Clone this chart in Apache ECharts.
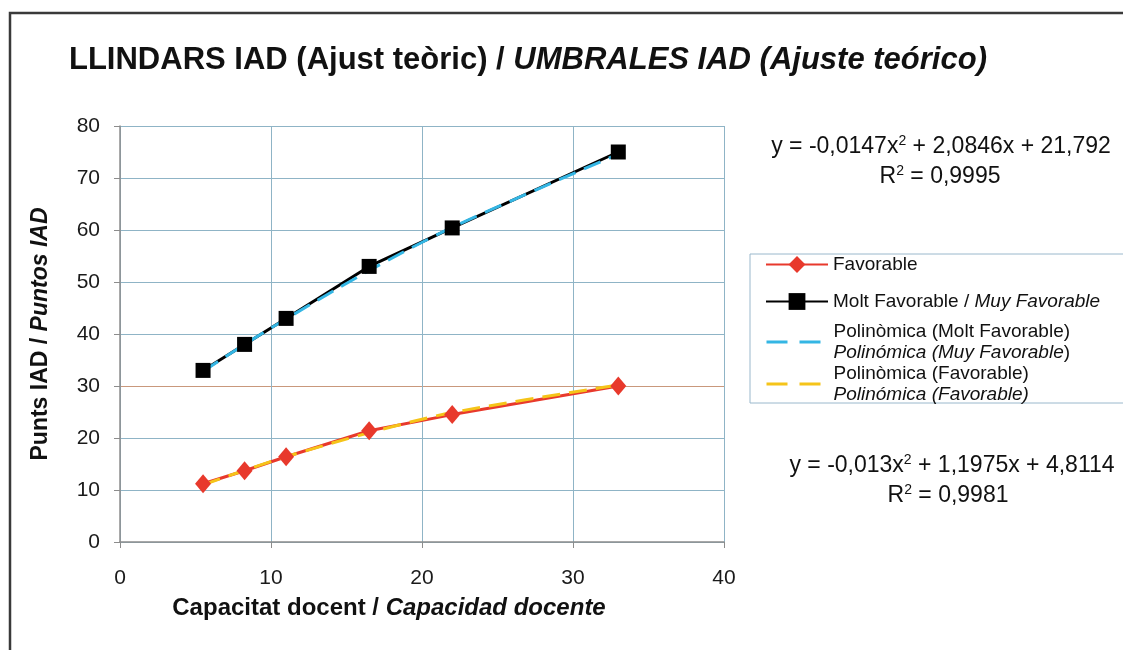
<!DOCTYPE html>
<html>
<head>
<meta charset="utf-8">
<script src="https://cdn.jsdelivr.net/npm/echarts@6/dist/echarts.min.js"></script>
<style>
  html, body { margin: 0; padding: 0; background: #fff; }
  #chart { width: 1123px; height: 650px; }
</style>
</head>
<body>
<div id="chart"></div>
<script>
// dades
var capacitat = [5.5, 8.25, 11, 16.5, 22, 33];
var favorable = [11.2, 13.7, 16.4, 21.4, 24.5, 30];
var moltFavorable = [33, 38, 43, 53, 60.4, 75];
// línies de tendència (llegides del gràfic)
var tendMolt = [32.8, 38.0, 42.9, 52.2, 60.5, 74.6];
var tendFav = [11.0, 13.8, 16.4, 21.0, 24.9, 30.2];
var xTicks = [0, 10, 20, 30, 40];
var yTicks = [0, 10, 20, 30, 40, 50, 60, 70, 80];

function parells(xs, ys) {
  return xs.map(function (x, i) { return [x, ys[i]]; });
}

var font = '"Liberation Sans", Arial, Helvetica, sans-serif';
var blau = '#8fb4c6';
var gris = '#8c8c8c';

var nomsSeries = ['Favorable', 'Molt Favorable / Muy Favorable',
                  'Polinòmica (Molt Favorable)', 'Polinòmica (Favorable)'];

var richLlegenda = {
  u: { fontFamily: font, fontSize: 19, color: '#111', lineHeight: 21 },
  ui: { fontFamily: font, fontSize: 19, fontStyle: 'italic', color: '#111', lineHeight: 21 }
};

function llegenda(nom, top, extra) {
  var l = {
    orient: 'vertical',
    left: 765, top: top,
    padding: 0,
    itemWidth: 62, itemHeight: 21,
    data: [Object.assign({ name: nom }, extra || {})],
    formatter: function (name) {
      if (name === 'Favorable') return '{u|Favorable}';
      if (name === 'Molt Favorable / Muy Favorable') return '{u|Molt Favorable / }{ui|Muy Favorable}';
      if (name === 'Polinòmica (Molt Favorable)')
        return '{u|Polinòmica (Molt Favorable)}\n{ui|Polinómica (Muy Favorable}{u|)}';
      return '{u|Polinòmica (Favorable)}\n{ui|Polinómica (Favorable)}';
    },
    textStyle: { lineHeight: 21, rich: richLlegenda }
  };
  return l;
}

function equacio(x, y, parts) {
  return {
    type: 'text', silent: true,
    x: x, y: y,
    style: {
      text: parts,
      align: 'center', verticalAlign: 'middle',
      rich: {
        t: { fontFamily: font, fontSize: 23, fill: '#111' },
        s: { fontFamily: font, fontSize: 14, fill: '#111', verticalAlign: 'top', padding: [0, 0, 12, 0] }
      }
    }
  };
}

var chart = echarts.init(document.getElementById('chart'));

chart.setOption({
  backgroundColor: '#fff',
  animation: false,
  textStyle: { fontFamily: font, color: '#1a1a1a' },
  title: {
    left: 64, top: 40,
    text: '{a|LLINDARS IAD (Ajust teòric) / }{b|UMBRALES IAD (Ajuste teórico)}',
    textStyle: {
      rich: {
        a: { fontFamily: font, fontSize: 31, fontWeight: 'bold', color: '#111' },
        b: { fontFamily: font, fontSize: 31, fontWeight: 'bold', fontStyle: 'italic', color: '#111' }
      }
    }
  },
  grid: { left: 120, right: 399, top: 126, bottom: 108 },
  xAxis: {
    type: 'value',
    min: xTicks[0], max: xTicks[xTicks.length - 1], interval: 10,
    name: '{a|Capacitat docent / }{b|Capacidad docente}',
    nameLocation: 'middle', nameGap: 54,
    nameTextStyle: {
      padding: [0, 66, 0, 0],
      rich: {
        a: { fontFamily: font, fontSize: 24, fontWeight: 'bold', color: '#111' },
        b: { fontFamily: font, fontSize: 24, fontWeight: 'bold', fontStyle: 'italic', color: '#111' }
      }
    },
    axisLine: { show: true, lineStyle: { color: gris, width: 1.5 } },
    axisTick: { show: true, length: 6, lineStyle: { color: gris } },
    axisLabel: { fontSize: 21, color: '#1a1a1a', margin: 26 },
    splitLine: { show: true, lineStyle: { color: blau, width: 1 } }
  },
  yAxis: {
    type: 'value',
    min: yTicks[0], max: yTicks[yTicks.length - 1], interval: 10,
    name: '{a|Punts IAD / }{b|Puntos IAD}',
    nameLocation: 'middle', nameGap: 68,
    nameTextStyle: {
      rich: {
        a: { fontFamily: font, fontSize: 23, fontWeight: 'bold', color: '#111' },
        b: { fontFamily: font, fontSize: 23, fontWeight: 'bold', fontStyle: 'italic', color: '#111' }
      }
    },
    axisLine: { show: true, lineStyle: { color: gris, width: 1.5 } },
    axisTick: { show: true, length: 6, lineStyle: { color: gris } },
    axisLabel: { fontSize: 21, color: '#1a1a1a', margin: 20 },
    splitLine: {
      show: true,
      lineStyle: { color: [blau, blau, blau, '#c9987c', blau, blau, blau, blau, blau], width: 1 }
    }
  },
  legend: [
    llegenda(nomsSeries[0], 254),
    llegenda(nomsSeries[1], 291),
    llegenda(nomsSeries[2], 321, { itemStyle: { opacity: 0 }, lineStyle: { type: [21, 12], width: 3 } }),
    llegenda(nomsSeries[3], 363, { itemStyle: { opacity: 0 }, lineStyle: { type: [21, 12], width: 3 } })
  ],
  graphic: [
    {
      type: 'rect', silent: true,
      shape: { x: 10, y: 13, width: 1200, height: 700 },
      style: { fill: 'none', stroke: '#3a3a3a', lineWidth: 2.5 }
    },
    {
      type: 'rect', silent: true,
      shape: { x: 750, y: 254, width: 420, height: 149 },
      style: { fill: 'none', stroke: '#9ab8cc', lineWidth: 1 }
    },
    equacio(941, 147, '{t|y = -0,0147x}{s|2}{t| + 2,0846x + 21,792}'),
    equacio(940, 177, '{t|R}{s|2}{t| = 0,9995}'),
    equacio(952, 466, '{t|y = -0,013x}{s|2}{t| + 1,1975x + 4,8114}'),
    equacio(948, 496, '{t|R}{s|2}{t| = 0,9981}')
  ],
  series: [
    {
      name: nomsSeries[0],
      type: 'line',
      data: parells(capacitat, favorable),
      symbol: 'diamond', symbolSize: [16, 19],
      lineStyle: { color: '#e8392c', width: 3 },
      itemStyle: { color: '#e8392c' }
    },
    {
      name: nomsSeries[1],
      type: 'line',
      data: parells(capacitat, moltFavorable),
      symbol: 'rect', symbolSize: 15,
      lineStyle: { color: '#000', width: 3 },
      itemStyle: { color: '#000' }
    },
    {
      name: nomsSeries[2],
      type: 'line',
      data: parells(capacitat, tendMolt),
      smooth: 0.3,
      symbol: 'none',
      lineStyle: { color: '#34b6e4', width: 3, type: [18, 9] },
      itemStyle: { color: '#34b6e4' }
    },
    {
      name: nomsSeries[3],
      type: 'line',
      data: parells(capacitat, tendFav),
      smooth: 0.3,
      symbol: 'none',
      lineStyle: { color: '#f5c419', width: 3, type: [18, 9] },
      itemStyle: { color: '#f5c419' }
    }
  ]
});
</script>
</body>
</html>
